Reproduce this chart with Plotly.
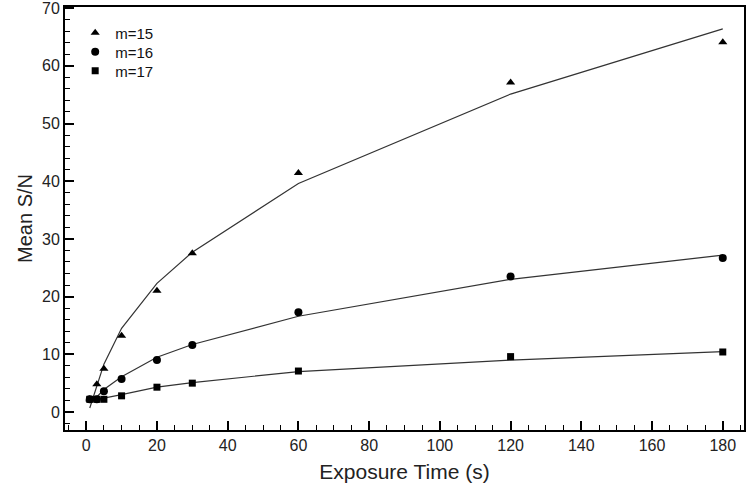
import plotly.graph_objects as go

exposure = [1, 3, 5, 10, 20, 30, 60, 120, 180]

m15 = [2.2, 4.8, 7.5, 13.2, 21.0, 27.5, 41.4, 57.1, 64.1]
m16 = [2.2, 2.2, 3.6, 5.7, 9.0, 11.6, 17.3, 23.5, 26.7]
m17 = [2.2, 2.2, 2.2, 2.8, 4.3, 5.0, 7.1, 9.6, 10.4]

fit15 = [0.7, 4.6, 8.3, 14.5, 22.3, 27.7, 39.6, 55.1, 66.4]
fit16 = [2.3, 2.6, 3.9, 6.1, 9.5, 11.7, 16.6, 23.0, 27.2]
fit17 = [2.2, 2.3, 2.4, 3.0, 4.3, 5.1, 7.0, 9.0, 10.45]

series = [
    ("m=15", m15, fit15, "triangle-up", 8, "legend"),
    ("m=16", m16, fit16, "circle", 8, "legend2"),
    ("m=17", m17, fit17, "square", 7, "legend3"),
]

fig = go.Figure()
for name, vals, fit, sym, sz, lg in series:
    fig.add_trace(go.Scatter(x=exposure, y=fit, mode="lines",
                             line=dict(color="#333333", width=1.2),
                             showlegend=False, hoverinfo="skip"))
for name, vals, fit, sym, sz, lg in series:
    fig.add_trace(go.Scatter(x=exposure, y=vals, mode="markers", name=name,
                             legend=lg,
                             marker=dict(symbol=sym, size=sz, color="black")))

font_family = "Liberation Sans, Arial, Helvetica, sans-serif"
axis_common = dict(
    showline=True, linecolor="black", linewidth=2, mirror=True,
    ticks="inside", ticklen=9, tickwidth=1.5, tickcolor="black",
    showgrid=False, zeroline=False, automargin=False,
    ticklabeloverflow="allow",
    tickfont=dict(family=font_family, size=16, color="#222222"),
)

legend_style = dict(x=0.015, xanchor="left", yanchor="middle",
                    bgcolor="rgba(0,0,0,0)",
                    font=dict(family=font_family, size=15, color="#111111"))

fig.update_layout(
    width=755, height=490,
    margin=dict(l=65, r=11, t=7, b=60),
    paper_bgcolor="white", plot_bgcolor="white",
    font=dict(family=font_family, color="#222222"),
    xaxis=dict(range=[-6, 186], tickmode="array",
               tickvals=[0, 20, 40, 60, 80, 100, 120, 140, 160, 180],
               minor=dict(dtick=5, tick0=0, ticks="inside", ticklen=5,
                          tickwidth=1, tickcolor="black"),
               title=dict(text="Exposure Time (s)",
                          font=dict(family=font_family, size=21, color="#222222"),
                          standoff=11),
               **axis_common),
    yaxis=dict(range=[-3.12, 70.19], tickmode="array",
               tickvals=[0, 10, 20, 30, 40, 50, 60, 70],
               minor=dict(dtick=2, tick0=0, ticks="inside", ticklen=5,
                          tickwidth=1, tickcolor="black"),
               title=dict(text="Mean S/N",
                          font=dict(family=font_family, size=20, color="#222222"),
                          standoff=4),
               **axis_common),
    legend=dict(y=0.9385, **legend_style),
    legend2=dict(y=0.8936, **legend_style),
    legend3=dict(y=0.8487, **legend_style),
)

fig.write_html("out.html", config={"displayModeBar": False},
               post_script="document.body.style.margin='0px';")
